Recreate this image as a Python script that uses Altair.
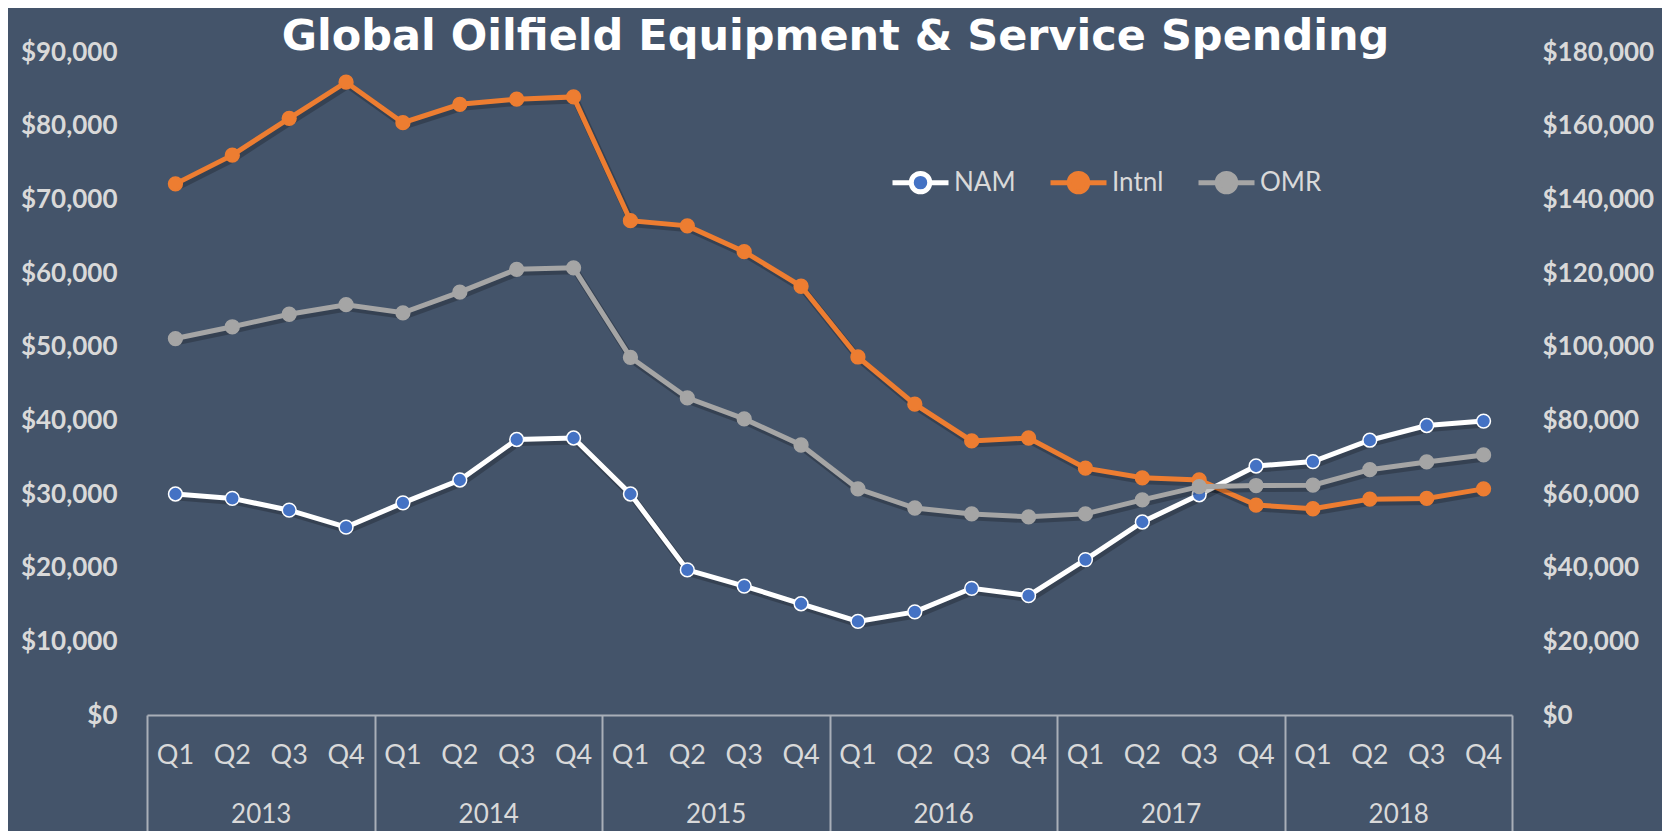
import altair as alt
import pandas as pd

# ---------------- data ----------------
years = ["2013", "2014", "2015", "2016", "2017", "2018"]
quarter_labels = ["Q1", "Q2", "Q3", "Q4"]
series_names = ["NAM", "Intnl", "OMR"]

# left axis ($M)
nam = [30000, 29400, 27800, 25500,
       28800, 31900, 37400, 37600,
       30000, 19700, 17500, 15100,
       12700, 14000, 17200, 16200,
       21100, 26200, 29900, 33800,
       34400, 37300, 39300, 39900]
intnl = [72100, 76000, 81000, 85900,
         80400, 82900, 83600, 83900,
         67100, 66400, 62900, 58200,
         48600, 42200, 37200, 37600,
         33500, 32200, 31900, 28500,
         28000, 29300, 29400, 30700]
# right axis ($M)
omr = [102200, 105400, 108800, 111400,
       109200, 114800, 121000, 121400,
       97100, 86100, 80400, 73300,
       61400, 56200, 54600, 53800,
       54600, 58400, 62000, 62300,
       62400, 66600, 68700, 70600]

keys = [f"{y} {q}" for y in years for q in quarter_labels]

rows = []
for i, k in enumerate(keys):
    y, q = k.split(" ")
    rows.append(dict(key=k, year=y, q=q, series="NAM", side="L", value=nam[i]))
    rows.append(dict(key=k, year=y, q=q, series="Intnl", side="L", value=intnl[i]))
    rows.append(dict(key=k, year=y, q=q, series="OMR", side="R", value=omr[i]))
df = pd.DataFrame(rows)
df_years = pd.DataFrame({"year": years})

# ---------------- style ----------------
BG = "#44546A"
TXT = "#D9D9D9"
AXC = "#A9AFB8"
FONT = "Lato"
line_cols = ["#FFFFFF", "#ED7D31", "#A5A5A5"]
mark_cols = ["#4472C4", "#ED7D31", "#A5A5A5"]

stroke_scale = alt.Scale(domain=series_names, range=line_cols)
fill_scale = alt.Scale(domain=series_names, range=mark_cols)

r = 0.33
legend_path = (f"M-1,0L-{r},0M{r},0L1,0M{r},0A{r},{r},0,1,1,-{r},0A{r},{r},0,1,1,{r},0Z")

fill_expr = ("datum.value === 'NAM' ? '#4472C4' : "
             "(datum.value === 'Intnl' ? '#ED7D31' : '#A5A5A5')")

legend = alt.Legend(
    title=None, orient="none", direction="horizontal",
    legendX=743, legendY=100, padding=0,
    symbolType=legend_path, symbolSize=3136, symbolStrokeWidth=5,
    symbolFillColor=alt.ExprRef(fill_expr), symbolOpacity=1,
    labelFont=FONT, labelFontSize=26, labelColor=TXT, labelOffset=3,
    columnPadding=24,
)

x_scale = alt.Scale(type="band", domain=keys, paddingInner=0, paddingOuter=0)
x_q_axis = alt.Axis(orient="bottom", title=None, labelAngle=0,
                    labelExpr="split(datum.value, ' ')[1]",
                    ticks=False, domain=False, grid=False,
                    labelPadding=27, labelBaseline="top",
                    labelFont=FONT, labelFontSize=27, labelColor=TXT)

def layer_for(side, y_axis, domain, show_x_axis):
    base = alt.Chart(df).transform_filter(f"datum.side === '{side}'")
    x = alt.X("key:N", sort=keys, scale=x_scale,
              axis=x_q_axis if show_x_axis else None)
    y = alt.Y("value:Q", scale=alt.Scale(domain=domain, nice=False, zero=True),
              axis=y_axis)
    shadow = base.mark_line(strokeWidth=7, xOffset=2, yOffset=3, color="black",
                            opacity=0.22).encode(
        x=x, y=y, detail="series:N")
    line = base.mark_line(strokeWidth=5).encode(
        x=x, y=y,
        stroke=alt.Stroke("series:N", scale=stroke_scale, legend=legend),
    )
    pts = base.mark_point(filled=True, size=190, strokeWidth=1.5, opacity=1).encode(
        x=x, y=y,
        fill=alt.Fill("series:N", scale=fill_scale, legend=None),
        stroke=alt.Stroke("series:N", scale=stroke_scale, legend=legend),
    )
    return alt.layer(shadow, line, pts)

left_axis = alt.Axis(orient="left", title=None, values=list(range(0, 90001, 10000)),
                     format="$,.0f", grid=False, domain=False, ticks=False, tickSize=0,
                     labelPadding=30, labelFont=FONT, labelFontSize=26,
                     labelFontWeight="bold", labelColor=TXT)
right_axis = alt.Axis(orient="right", title=None, values=list(range(0, 180001, 20000)),
                      format="$,.0f", grid=False, domain=False, ticks=False, tickSize=0,
                      labelPadding=30, labelFont=FONT, labelFontSize=26,
                      labelFontWeight="bold", labelColor=TXT)

left = layer_for("L", left_axis, [0, 90000], True)
right = layer_for("R", right_axis, [0, 180000], False)

year_layer = alt.Chart(df_years).mark_rule(opacity=0).encode(
    x=alt.X("year:N", sort=years,
            scale=alt.Scale(type="band", domain=years, paddingInner=0, paddingOuter=0),
            axis=alt.Axis(orient="bottom", title=None, labelAngle=0,
                          tickBand="extent", tickSize=120, tickWidth=2, tickColor=AXC,
                          domain=True, domainColor=AXC, domainWidth=2, grid=False,
                          labelPadding=-34, labelBaseline="top",
                          labelFont=FONT, labelFontSize=26, labelColor=TXT))
)

chart = alt.layer(left, right, year_layer).resolve_scale(
    y="independent", x="independent"
).properties(
    width=1365, height=663,
    padding={"left": 139, "top": 44, "right": 150, "bottom": 116},
    autosize=alt.AutoSizeParams(type="none"),
    background=BG,
    title=alt.TitleParams(
        "Global Oilfield Equipment & Service Spending",
        font="DejaVu Sans", fontSize=43, fontWeight="bold", color="#FFFFFF",
        anchor="middle", frame="group", offset=-20, dx=6),
).configure_view(stroke=None)

chart.save("out.html", embed_options={"renderer": "svg", "actions": False})
